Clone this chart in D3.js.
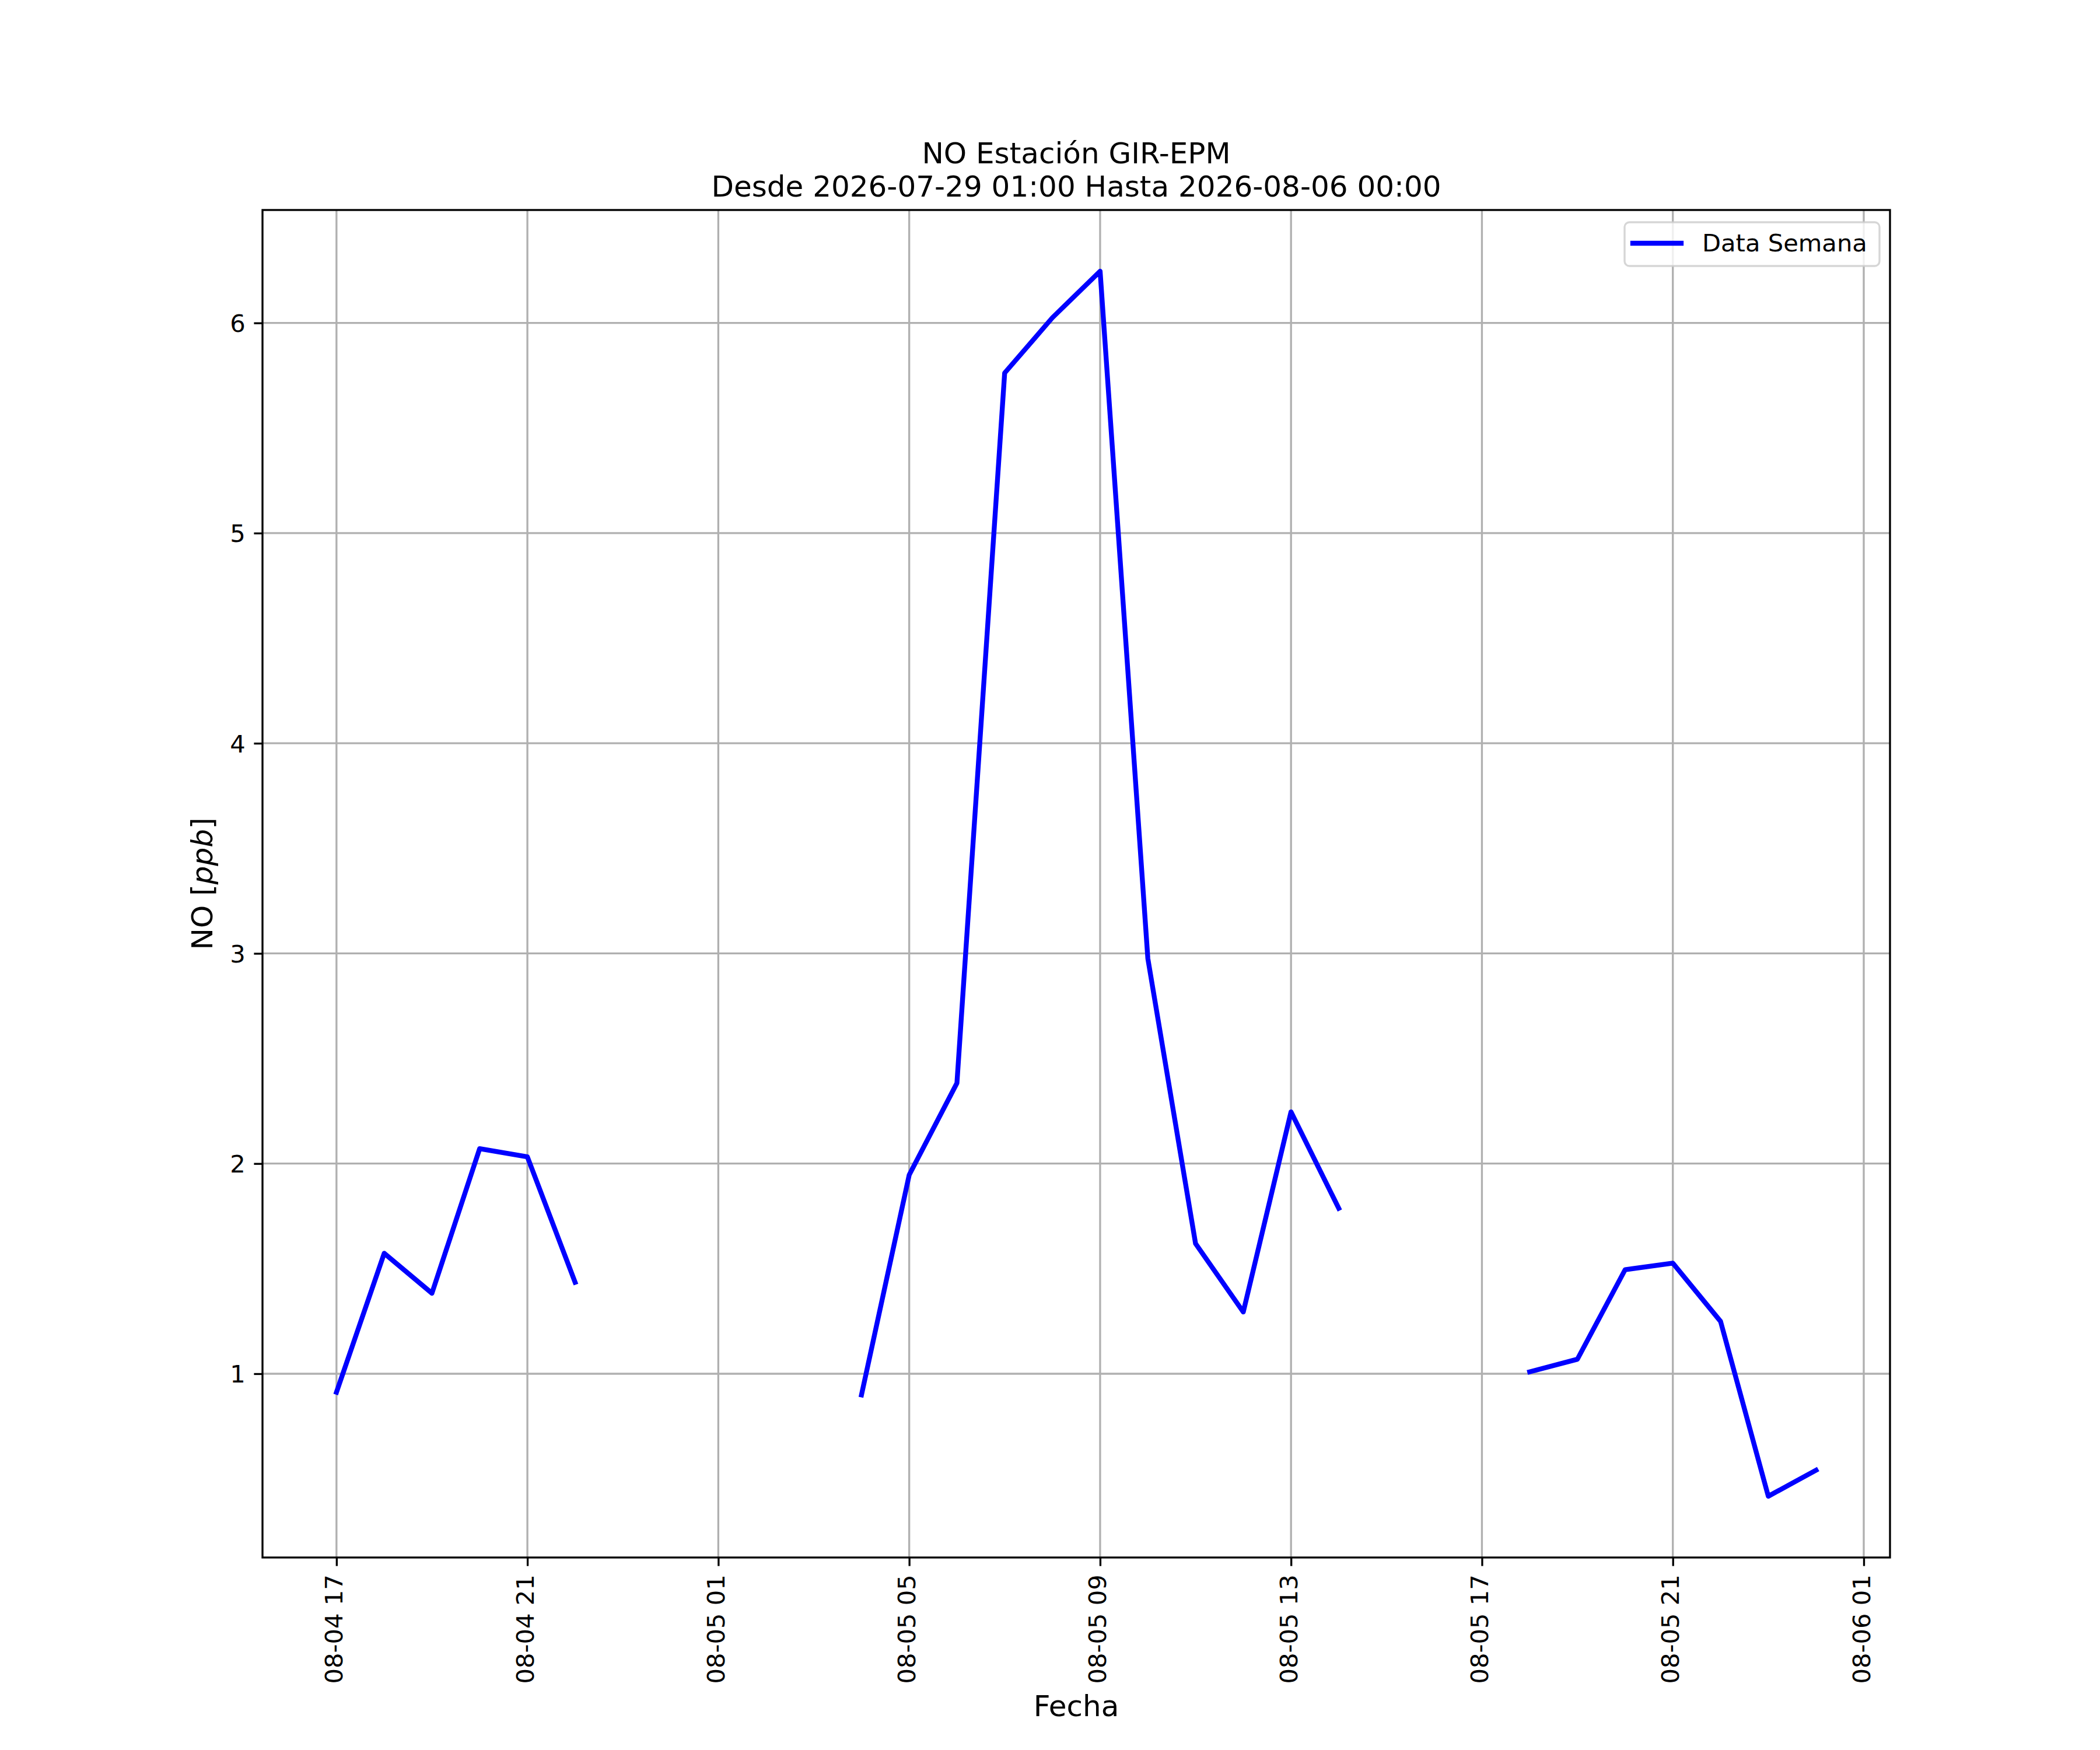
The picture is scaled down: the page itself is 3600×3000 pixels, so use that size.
<!DOCTYPE html>
<html>
<head>
<meta charset="utf-8">
<script src="https://cdn.jsdelivr.net/npm/d3@7"></script>
<style>
  body { margin: 0; background: #fff; }
  text { font-family: "DejaVu Sans", sans-serif; fill: #000; }
</style>
</head>
<body>
<div id="chart"></div>
<script>
// hourly series, first sample at startTime; null = missing hour
const startTime = '2026-08-04 17:00';
const noValues = [
  0.912, 1.573, 1.383, 2.071, 2.032, 1.435, null,
  null, null, null, null, 0.899, 1.946, 2.383, 5.762, 6.025, 6.246, 2.976, 1.619,
  1.294, 2.246, 1.787, null, null, null, 1.009, 1.069, 1.495, 1.526, 1.249, 0.417,
  0.541
];
const xTicks = [
  '2026-08-04 17:00', '2026-08-04 21:00', '2026-08-05 01:00', '2026-08-05 05:00',
  '2026-08-05 09:00', '2026-08-05 13:00', '2026-08-05 17:00', '2026-08-05 21:00',
  '2026-08-06 01:00'
];
const yTicks = [1, 2, 3, 4, 5, 6];
const titleLines = ['NO Estación GIR-EPM', 'Desde 2026-07-29 01:00 Hasta 2026-08-06 00:00'];
const seriesName = 'Data Semana';

const width = 3600, height = 3000;
const margin = { left: 450, right: 360, top: 360, bottom: 330 };
const fs = 41.67;          // 10pt at 300 dpi
const fsLarge = 50;        // 12pt
const lw = 3.33;           // 0.8pt

const parse = d3.utcParse('%Y-%m-%d %H:%M');
const t0 = parse(startTime);
const data = noValues.map((v, i) => ({ t: d3.utcHour.offset(t0, i), v }));
const valid = data.filter(d => d.v != null);

function pad(ext) {
  const m = (ext[1] - ext[0]) * 0.05;
  return [+ext[0] - m, +ext[1] + m];
}

const x = d3.scaleUtc()
  .domain(pad(d3.extent(valid, d => d.t)).map(d => new Date(d)))
  .range([margin.left, width - margin.right]);
const y = d3.scaleLinear()
  .domain(pad(d3.extent(valid, d => d.v)))
  .range([height - margin.bottom, margin.top]);

const svg = d3.select('#chart').append('svg')
  .attr('width', width)
  .attr('height', height);
svg.append('rect').attr('width', width).attr('height', height).attr('fill', '#fff');

const x0 = margin.left, x1 = width - margin.right;
const y0 = height - margin.bottom, y1 = margin.top;

// grid
const grid = svg.append('g').attr('stroke', '#b0b0b0').attr('stroke-width', lw);
grid.selectAll('line.gx').data(xTicks.map(parse)).join('line')
  .attr('x1', d => x(d)).attr('x2', d => x(d)).attr('y1', y0).attr('y2', y1);
grid.selectAll('line.gy').data(yTicks).join('line')
  .attr('x1', x0).attr('x2', x1).attr('y1', d => y(d)).attr('y2', d => y(d));

// series
const line = d3.line()
  .defined(d => d.v != null)
  .x(d => x(d.t))
  .y(d => y(d.v));
svg.append('path')
  .datum(data)
  .attr('fill', 'none')
  .attr('stroke', '#0000ff')
  .attr('stroke-width', 8.33)
  .attr('stroke-linejoin', 'round')
  .attr('stroke-linecap', 'square')
  .attr('d', line);

// axes
const fmt = d3.utcFormat('%m-%d %H');
const xAxis = svg.append('g')
  .attr('transform', `translate(0,${y0})`)
  .call(d3.axisBottom(x).tickValues(xTicks.map(parse)).tickFormat(fmt)
    .tickSize(14.6).tickPadding(14.6));
xAxis.select('.domain').remove();
xAxis.selectAll('.tick line').attr('stroke', '#000').attr('stroke-width', lw);
xAxis.selectAll('.tick text')
  .attr('font-size', fs)
  .attr('font-family', '"DejaVu Sans", sans-serif')
  .attr('text-anchor', 'end')
  .attr('transform', 'rotate(-90)')
  .attr('x', -29.2)
  .attr('y', 0)
  .attr('dy', '0.24em');

const yAxis = svg.append('g')
  .attr('transform', `translate(${x0},0)`)
  .call(d3.axisLeft(y).tickValues(yTicks).tickFormat(d3.format('d'))
    .tickSize(14.6).tickPadding(14.6));
yAxis.select('.domain').remove();
yAxis.selectAll('.tick line').attr('stroke', '#000').attr('stroke-width', lw);
yAxis.selectAll('.tick text')
  .attr('font-size', fs)
  .attr('font-family', '"DejaVu Sans", sans-serif')
  .attr('dy', '0.36em');

// spines
svg.append('rect')
  .attr('x', x0).attr('y', y1)
  .attr('width', x1 - x0).attr('height', y0 - y1)
  .attr('fill', 'none')
  .attr('stroke', '#000')
  .attr('stroke-width', lw)
  .attr('stroke-linejoin', 'miter');

// title
const cx = (x0 + x1) / 2;
svg.append('g').selectAll('text').data(titleLines).join('text')
  .attr('x', cx)
  .attr('y', (d, i) => 280 + i * 57)
  .attr('text-anchor', 'middle')
  .attr('font-size', fsLarge)
  .text(d => d);

// axis labels
svg.append('text')
  .attr('x', cx).attr('y', 2942)
  .attr('text-anchor', 'middle')
  .attr('font-size', fsLarge)
  .text('Fecha');

const yl = svg.append('text')
  .attr('transform', `translate(364,${(y0 + y1) / 2}) rotate(-90)`)
  .attr('text-anchor', 'middle')
  .attr('font-size', fsLarge);
yl.append('tspan').text('NO [');
yl.append('tspan').attr('font-style', 'italic').text('ppb');
yl.append('tspan').text(']');

// legend
const lg = svg.append('g');
lg.append('rect')
  .attr('x', 2785).attr('y', 381)
  .attr('width', 437).attr('height', 75)
  .attr('rx', 8.3).attr('ry', 8.3)
  .attr('fill', 'rgba(255,255,255,0.8)')
  .attr('stroke', 'rgba(204,204,204,0.8)')
  .attr('stroke-width', lw);
lg.append('line')
  .attr('x1', 2799).attr('x2', 2882)
  .attr('y1', 417).attr('y2', 417)
  .attr('stroke', '#0000ff')
  .attr('stroke-width', 8.33)
  .attr('stroke-linecap', 'square');
lg.append('text')
  .attr('x', 2918).attr('y', 431)
  .attr('font-size', fs)
  .text(seriesName);
</script>
</body>
</html>
